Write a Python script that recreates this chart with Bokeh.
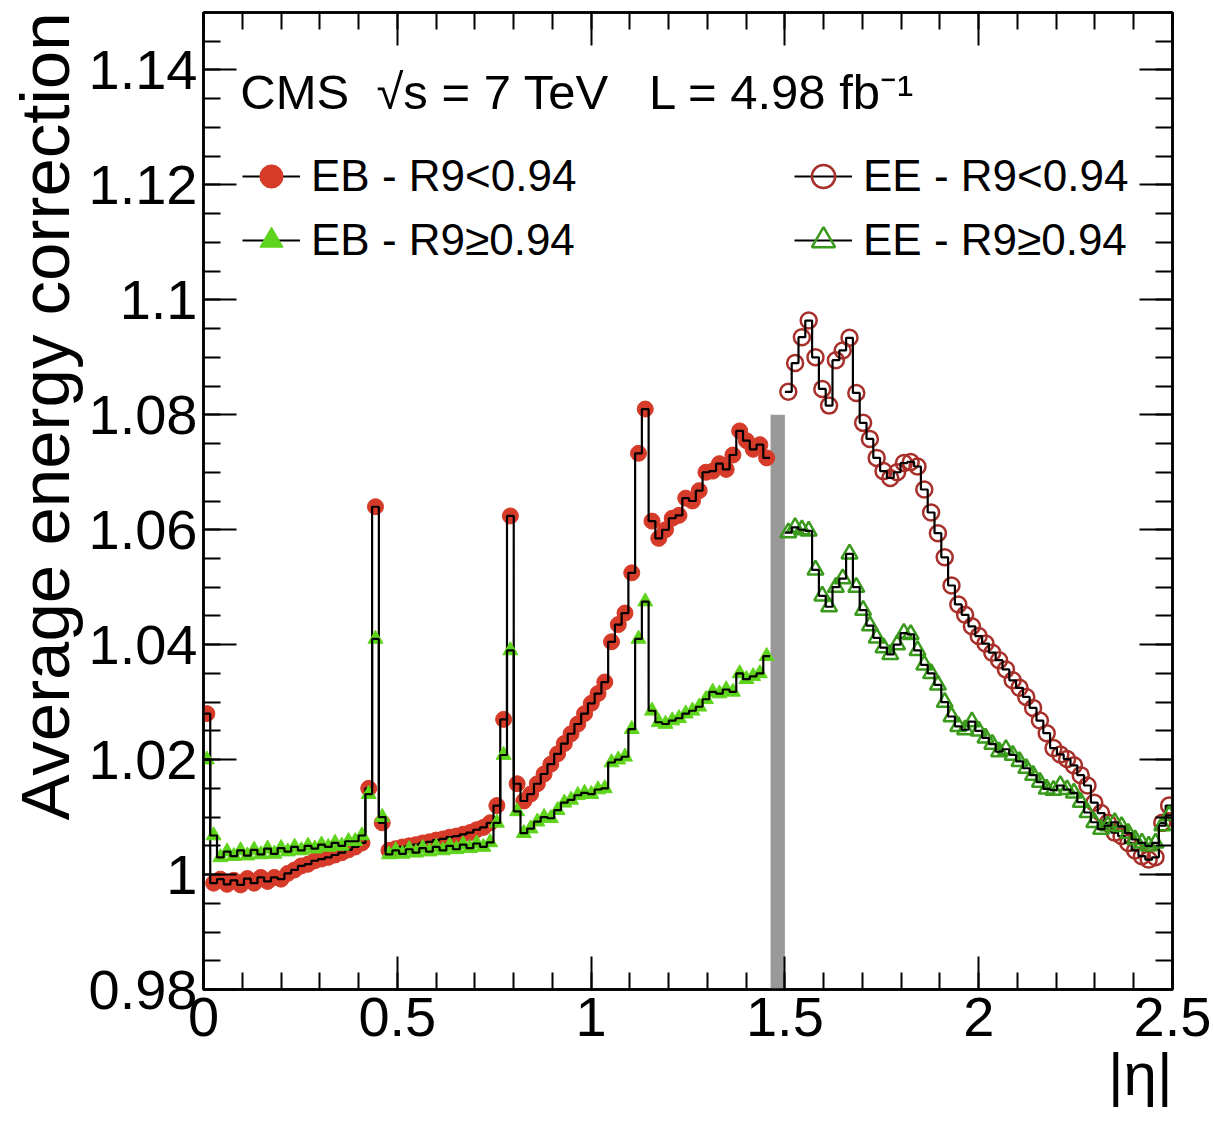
from bokeh.plotting import figure
from bokeh.models import (SingleIntervalTicker, LinearAxis, CustomJSTickFormatter,
                          Legend, LegendItem, Label, Title)
from bokeh.embed import file_html
from bokeh.resources import INLINE

# ---- binning -------------------------------------------------------------
eb_start, eb_width = 0.0, 0.0174      # barrel bins in |eta|
ee_start, ee_width = 1.5, 1.0 / 57    # endcap bins in |eta|

# ---- average energy correction per |eta| bin --------------------------------
eb_low_r9 = [
    1.0280, 0.9985, 0.9992, 0.9983, 0.9990, 0.9982, 0.9993, 0.9985, 0.9995, 0.9988,
    0.9995, 0.9992, 1.0002, 1.0008, 1.0015, 1.0018, 1.0024, 1.0027, 1.0030, 1.0034,
    1.0038, 1.0043, 1.0048, 1.0055, 1.0150, 1.0640, 1.0090, 1.0042, 1.0045, 1.0048,
    1.0050, 1.0052, 1.0055, 1.0057, 1.0060, 1.0062, 1.0065, 1.0067, 1.0070, 1.0073,
    1.0078, 1.0082, 1.0090, 1.0120, 1.0270, 1.0624, 1.0158, 1.0128, 1.0140, 1.0158,
    1.0175, 1.0192, 1.0210, 1.0228, 1.0245, 1.0262, 1.0280, 1.0298, 1.0315, 1.0335,
    1.0405, 1.0435, 1.0455, 1.0525, 1.0733, 1.0810, 1.0615, 1.0585, 1.0600, 1.0620,
    1.0625, 1.0655, 1.0650, 1.0668, 1.0700, 1.0702, 1.0715, 1.0705, 1.0730, 1.0772,
    1.0755, 1.0740, 1.0748, 1.0725,
]
eb_high_r9 = [
    1.0200, 1.0068, 1.0030, 1.0040, 1.0032, 1.0042, 1.0033, 1.0043, 1.0035, 1.0045,
    1.0036, 1.0046, 1.0040, 1.0048, 1.0042, 1.0050, 1.0045, 1.0052, 1.0048, 1.0055,
    1.0050, 1.0058, 1.0058, 1.0068, 1.0140, 1.0410, 1.0100, 1.0035, 1.0042, 1.0036,
    1.0044, 1.0038, 1.0046, 1.0040, 1.0048, 1.0042, 1.0050, 1.0044, 1.0052, 1.0046,
    1.0054, 1.0048, 1.0056, 1.0090, 1.0208, 1.0390, 1.0110, 1.0072, 1.0080, 1.0092,
    1.0100, 1.0098, 1.0112, 1.0125, 1.0130, 1.0138, 1.0142, 1.0140, 1.0148, 1.0150,
    1.0195, 1.0200, 1.0205, 1.0253, 1.0410, 1.0475, 1.0285, 1.0265, 1.0262, 1.0268,
    1.0272, 1.0280, 1.0285, 1.0292, 1.0305, 1.0318, 1.0315, 1.0322, 1.0318, 1.0350,
    1.0340, 1.0345, 1.0350, 1.0380,
]
ee_low_r9 = [
    1.0840, 1.0890, 1.0935, 1.0964, 1.0900, 1.0845, 1.0816, 1.0895, 1.0912, 1.0934,
    1.0838, 1.0786, 1.0758, 1.0725, 1.0702, 1.0690, 1.0700, 1.0716, 1.0718, 1.0710,
    1.0670, 1.0630, 1.0594, 1.0552, 1.0503, 1.0470, 1.0452, 1.0432, 1.0415, 1.0402,
    1.0386, 1.0373, 1.0357, 1.0338, 1.0325, 1.0309, 1.0290, 1.0268, 1.0246, 1.0220,
    1.0209, 1.0201, 1.0190, 1.0173, 1.0155, 1.0125, 1.0107, 1.0090, 1.0073, 1.0067,
    1.0055, 1.0042, 1.0032, 1.0026, 1.0030, 1.0090, 1.0120,
]
ee_high_r9 = [
    1.0595, 1.0604, 1.0600, 1.0598, 1.0530, 1.0485, 1.0466, 1.0500, 1.0515, 1.0558,
    1.0500, 1.0460, 1.0433, 1.0412, 1.0395, 1.0383, 1.0400, 1.0420, 1.0418, 1.0390,
    1.0365, 1.0350, 1.0330, 1.0300, 1.0275, 1.0258, 1.0252, 1.0266, 1.0250, 1.0238,
    1.0227, 1.0214, 1.0218, 1.0208, 1.0197, 1.0185, 1.0173, 1.0161, 1.0149, 1.0147,
    1.0155, 1.0148, 1.0142, 1.0126, 1.0108, 1.0091, 1.0079, 1.0085, 1.0091, 1.0084,
    1.0072, 1.0061, 1.0055, 1.0050, 1.0055, 1.0085, 1.0103,
]

# barrel/endcap transition region (shaded)
crack_lo, crack_hi, crack_top = 1.463, 1.50, 1.08

labels = ["EB - R9<0.94", "EB - R9\u22650.94", "EE - R9<0.94", "EE - R9\u22650.94"]
NBSP = "\u00a0"
header = ("CMS" + NBSP * 2 + "\u221As = 7 TeV" + NBSP * 3 +
          "L = 4.98 fb\u207B\u00B9")
y_title = "Average energy correction"
x_title = "|\u03b7|"


def centers(start, width, n):
    return [start + width * (i + 0.5) for i in range(n)]


def edges(start, width, n):
    return [start + width * i for i in range(n + 1)]


FONT = "Liberation Sans"

p = figure(width=1213, height=1142, x_range=(0, 2.5), y_range=(0.98, 1.15),
           output_backend="svg", toolbar_location=None,
           min_border_left=203, min_border_right=41, min_border_top=12,
           min_border_bottom=153, x_axis_location=None, y_axis_location=None)
p.grid.visible = False
p.outline_line_color = "black"
p.outline_line_width = 2.5
p.background_fill_color = "white"
p.border_fill_color = "white"

fmt = CustomJSTickFormatter(code="return String(Number(tick.toFixed(2)));")


def make_axis(ticker, show_labels):
    ax = LinearAxis(ticker=ticker, formatter=fmt)
    ax.major_tick_in = 33
    ax.major_tick_out = 0
    ax.minor_tick_in = 17
    ax.minor_tick_out = 0
    ax.major_tick_line_width = 2
    ax.minor_tick_line_width = 2
    ax.axis_line_width = 2.5
    ax.major_tick_line_color = "black"
    ax.minor_tick_line_color = "black"
    ax.axis_line_color = "black"
    if show_labels:
        ax.major_label_text_font = FONT
        ax.major_label_text_font_size = "56px"
        ax.major_label_text_color = "black"
        ax.major_label_standoff = 6
    else:
        ax.major_label_text_font_size = "1px"
        ax.major_label_text_color = None
        ax.major_label_standoff = 0
    return ax


def x_ticker():
    return SingleIntervalTicker(interval=0.5, num_minor_ticks=5)


def y_ticker():
    return SingleIntervalTicker(interval=0.02, num_minor_ticks=4)


xb = make_axis(x_ticker(), True)
xb.major_label_standoff = 8
yl = make_axis(y_ticker(), True)
p.add_layout(xb, "below")
p.add_layout(yl, "left")
p.add_layout(make_axis(x_ticker(), False), "above")
p.add_layout(make_axis(y_ticker(), False), "right")

# axis titles, flush with the far end of each axis
p.add_layout(Title(text=y_title, align="right", text_font=FONT,
                   text_font_size="69px", text_font_style="normal",
                   text_color="black", standoff=4, offset=0), "left")
p.add_layout(Title(text=x_title, align="right", text_font=FONT,
                   text_font_size="60px", text_font_style="normal",
                   text_color="black", standoff=0, offset=0), "below")

# shaded crack
p.quad(left=[crack_lo], right=[crack_hi], bottom=[0.98], top=[crack_top],
       fill_color="#999999", line_color=None)

series = [
    (eb_low_r9, eb_start, eb_width, dict(marker="circle", size=16, fill_color="#d63a28",
                                         line_color="#d63a28", line_width=1)),
    (eb_high_r9, eb_start, eb_width, dict(marker="triangle", size=15, fill_color="#5fd41c",
                                          line_color="#5fd41c", line_width=1)),
    (ee_low_r9, ee_start, ee_width, dict(marker="circle", size=16, fill_color=None,
                                         line_color="#a8302a", line_width=2.5)),
    (ee_high_r9, ee_start, ee_width, dict(marker="triangle", size=16, fill_color=None,
                                          line_color="#3a9a1c", line_width=2.5)),
]

items = []
for (vals, start, width, style), lab in zip(series, labels):
    n = len(vals)
    sc = p.scatter(centers(start, width, n), vals, **style)
    st = p.step(edges(start, width, n), vals + [vals[-1]], mode="after",
                line_color="black", line_width=2.2)
    items.append(LegendItem(label=lab, renderers=[st, sc]))


def make_legend(its, x):
    return Legend(items=its, location=(x, 717), orientation="vertical",
                  label_text_font=FONT, label_text_font_size="44px",
                  label_text_color="black", label_height=64, glyph_height=64,
                  glyph_width=58, label_standoff=11, spacing=0, padding=0,
                  margin=0, border_line_color=None, background_fill_alpha=0)


p.add_layout(make_legend([items[0], items[1]], 39), "center")
p.add_layout(make_legend([items[2], items[3]], 591), "center")

p.add_layout(Label(x=0.095, y=1.1362, text=header, text_font=FONT,
                   text_font_size="49px", text_color="black",
                   text_baseline="alphabetic"))

open("out.html", "w").write(file_html(p, INLINE))
